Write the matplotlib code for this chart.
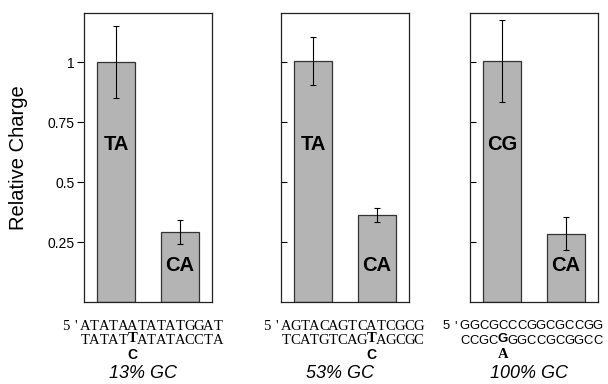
import matplotlib.pyplot as plt
import numpy as np

# values
panels = ["13% GC", "53% GC", "100% GC"]
bar_labels = [["TA", "CA"], ["TA", "CA"], ["CG", "CA"]]
values = [[1.0, 0.29], [1.005, 0.362], [1.005, 0.285]]
errors = [[0.15, 0.05], [0.10, 0.03], [0.17, 0.07]]
yticks = [0.25, 0.5, 0.75, 1]
ytick_labels = ["0.25", "0.5", "0.75", "1"]

# sequences: top strand, bottom strand (mismatch position marked by index)
top_seqs = ["5'ATATAATATATGGAT", "5'AGTACAGTCATCGCG", "5'GGCGCCCGGCGCCGG"]
bot_seqs = ["  TATATTATATACCTA", "  TCATGTCAGTAGCGC", "  CCGCGGGCCGCGGCC"]
mm_index = [7, 11, 6]
mm_below = ["C", "C", "A"]

W, H = 608, 384
fig = plt.figure(figsize=(W / 100, H / 100), dpi=100)
plt.rcParams['font.family'] = ['Liberation Sans', 'DejaVu Sans']

ax_left = [84, 281, 470]
seq_left = [61, 262, 441]
ax_w = 128
ax_top, ax_bot = 13, 302

def fx(x):
    return x / W

def fy(y):
    return 1 - y / H

for i in range(3):
    ax = fig.add_axes([fx(ax_left[i]), fy(ax_bot), ax_w / W, (ax_bot - ax_top) / H])
    x = np.arange(2)
    ax.bar(x, values[i], width=0.6, color="#b4b4b4", edgecolor="#333333", linewidth=0.9)
    ax.errorbar(x, values[i], yerr=errors[i], fmt="none", ecolor="black",
                elinewidth=0.8, capsize=2.2, capthick=0.8)
    for j in range(2):
        ypos = 0.655 if j == 0 else 0.152
        ax.text(x[j], ypos, bar_labels[i][j], ha="center", va="center",
                fontsize=14.5, fontweight="bold")
    ax.set_xlim(-0.5, 1.5)
    ax.set_ylim(0, 1.205)
    ax.set_xticks([])
    ax.set_yticks(yticks)
    for s in ax.spines.values():
        s.set_color("#222222")
        s.set_linewidth(0.9)
    if i == 0:
        ax.set_yticklabels(ytick_labels, fontsize=10)
        ax.tick_params(axis="y", direction="out", length=5, width=0.8, pad=1.5)
        ax.set_ylabel("Relative Charge", fontsize=14.5)
        ax.yaxis.set_label_coords(-0.44, 0.5)
    else:
        ax.set_yticklabels([])
        ax.tick_params(axis="y", direction="in", length=4.5, width=0.8)

    # sequence text, one character per fixed-pitch slot
    x0 = seq_left[i]
    pitch = 9.5
    seq_font = "Liberation Serif" if i < 2 else "Liberation Sans"
    seq_size = 10.5 if i < 2 else 9.4
    for k, ch in enumerate(top_seqs[i]):
        if ch == " ":
            continue
        fig.text(fx(x0 + (k + 0.5) * pitch), fy(326), ch, ha="center", va="center",
                 fontsize=seq_size, family=seq_font)
    for k, ch in enumerate(bot_seqs[i]):
        if ch == " ":
            continue
        if k == mm_index[i]:
            fig.text(fx(x0 + (k + 0.5) * pitch), fy(338.5), ch, ha="center", va="center",
                     fontsize=10.5 if i < 2 else 9.5, fontweight="bold",
                     family="Liberation Serif" if i < 2 else "Liberation Sans")
        else:
            fig.text(fx(x0 + (k + 0.5) * pitch), fy(341), ch, ha="center", va="center",
                     fontsize=seq_size, family=seq_font)
    k = mm_index[i]
    fig.text(fx(x0 + (k + 0.5) * pitch), fy(355), mm_below[i], ha="center", va="center",
             fontsize=10 if i < 2 else 10.5, fontweight="bold",
             family="Liberation Sans" if i < 2 else "Liberation Serif")

    fig.text(fx(ax_left[i] + ax_w / 2 - 5), fy(374), panels[i], ha="center", va="center",
             fontsize=13, style="italic")

fig.savefig("out.png", dpi=100)
